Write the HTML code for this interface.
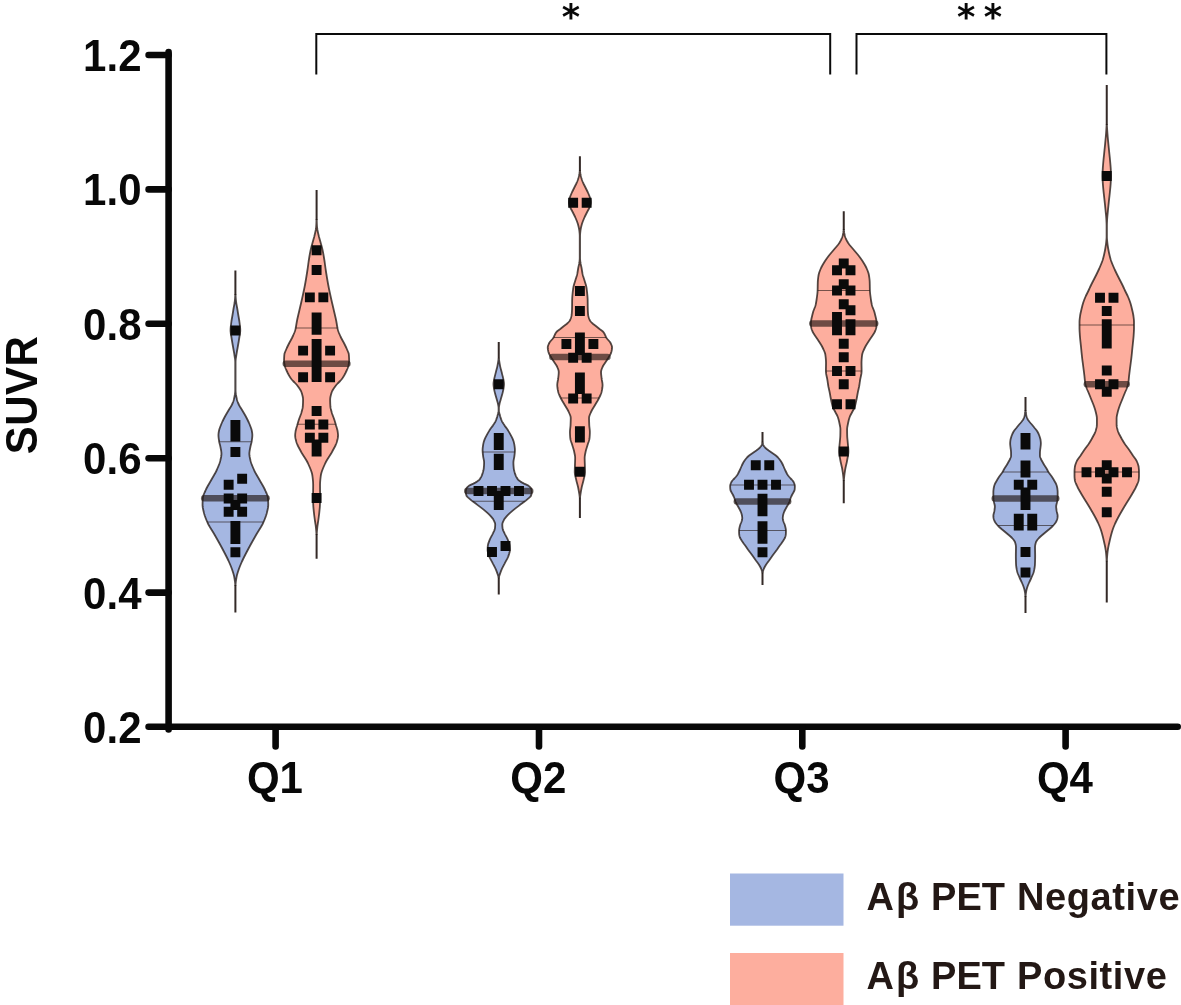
<!DOCTYPE html>
<html lang="en">
<head>
<meta charset="utf-8">
<title>SUVR by quartile</title>
<style>
html,body{margin:0;padding:0;background:#fff;}
body{width:1181px;height:1005px;overflow:hidden;font-family:"Liberation Sans",Arial,Helvetica,sans-serif;}
svg{display:block;will-change:transform;}
</style>
</head>
<body>
<svg width="1181" height="1005" viewBox="0 0 1181 1005">
<rect width="1181" height="1005" fill="#fff"/>
<g><path d="M235.4 270.4V295M235.4 585V612.5" stroke="#231815" stroke-opacity=".92" stroke-width="2" fill="none"/>
<path d="M235.55 295 L235.59 296 L235.65 297 L235.72 298 L235.8 299 L235.9 300 L236.01 301 L236.12 302 L236.24 303 L236.4 304 L236.58 305 L236.78 306 L236.97 307 L237.15 308 L237.32 309 L237.48 310 L237.64 311 L237.8 312 L237.97 313 L238.13 314 L238.29 315 L238.46 316 L238.64 317 L238.82 318 L239 319 L239.16 320 L239.32 321 L239.45 322 L239.58 323 L239.71 324 L239.84 325 L239.96 326 L240.07 327 L240.16 328 L240.22 329 L240.25 330 L240.24 331 L240.17 332 L240.06 333 L239.91 334 L239.75 335 L239.58 336 L239.41 337 L239.25 338 L239.1 339 L238.94 340 L238.78 341 L238.61 342 L238.43 343 L238.26 344 L238.09 345 L237.92 346 L237.74 347 L237.56 348 L237.38 349 L237.2 350 L237.02 351 L236.84 352 L236.68 353 L236.52 354 L236.38 355 L236.22 356 L236.06 357 L235.9 358 L235.77 359 L235.65 360 L235.58 361 L235.55 362 L235.55 363 L235.55 364 L235.55 365 L235.55 366 L235.55 367 L235.55 368 L235.55 369 L235.55 370 L235.55 371 L235.55 372 L235.55 373 L235.55 374 L235.55 375 L235.55 376 L235.55 377 L235.55 378 L235.55 379 L235.55 380 L235.55 381 L235.55 382 L235.55 383 L235.55 384 L235.55 385 L235.55 386 L235.55 387 L235.55 388 L235.55 389 L235.55 390 L235.57 391 L235.63 392 L235.73 393 L235.86 394 L236.01 395 L236.19 396 L236.39 397 L236.6 398 L236.82 399 L237.05 400 L237.33 401 L237.69 402 L238.11 403 L238.57 404 L239.05 405 L239.58 406 L240.17 407 L240.8 408 L241.44 409 L242.05 410 L242.64 411 L243.23 412 L243.83 413 L244.41 414 L244.99 415 L245.55 416 L246.09 417 L246.61 418 L247.12 419 L247.61 420 L248.1 421 L248.57 422 L249.02 423 L249.45 424 L249.85 425 L250.24 426 L250.63 427 L251.01 428 L251.35 429 L251.63 430 L251.85 431 L252.03 432 L252.19 433 L252.3 434 L252.35 435 L252.32 436 L252.26 437 L252.16 438 L252.03 439 L251.89 440 L251.75 441 L251.57 442 L251.34 443 L251.08 444 L250.81 445 L250.56 446 L250.35 447 L250.16 448 L249.96 449 L249.76 450 L249.59 451 L249.46 452 L249.37 453 L249.35 454 L249.41 455 L249.53 456 L249.7 457 L249.91 458 L250.13 459 L250.35 460 L250.59 461 L250.87 462 L251.19 463 L251.54 464 L251.92 465 L252.32 466 L252.74 467 L253.17 468 L253.61 469 L254.05 470 L254.51 471 L255.01 472 L255.54 473 L256.1 474 L256.67 475 L257.25 476 L257.83 477 L258.42 478 L258.99 479 L259.55 480 L260.11 481 L260.69 482 L261.27 483 L261.86 484 L262.45 485 L263.02 486 L263.57 487 L264.1 488 L264.59 489 L265.05 490 L265.5 491 L265.96 492 L266.42 493 L266.86 494 L267.25 495 L267.57 496 L267.82 497 L267.95 498 L268.02 499 L268.09 500 L268.14 501 L268.19 502 L268.22 503 L268.24 504 L268.25 505 L268.21 506 L268.1 507 L267.94 508 L267.74 509 L267.52 510 L267.28 511 L267.05 512 L266.81 513 L266.54 514 L266.23 515 L265.91 516 L265.56 517 L265.19 518 L264.8 519 L264.39 520 L263.98 521 L263.55 522 L263.1 523 L262.6 524 L262.07 525 L261.51 526 L260.93 527 L260.32 528 L259.71 529 L259.08 530 L258.46 531 L257.84 532 L257.22 533 L256.63 534 L256.05 535 L255.48 536 L254.92 537 L254.35 538 L253.79 539 L253.22 540 L252.66 541 L252.1 542 L251.54 543 L250.99 544 L250.44 545 L249.89 546 L249.35 547 L248.81 548 L248.28 549 L247.75 550 L247.23 551 L246.7 552 L246.18 553 L245.65 554 L245.14 555 L244.63 556 L244.12 557 L243.62 558 L243.14 559 L242.66 560 L242.2 561 L241.75 562 L241.31 563 L240.88 564 L240.45 565 L240.04 566 L239.64 567 L239.26 568 L238.89 569 L238.55 570 L238.22 571 L237.89 572 L237.57 573 L237.27 574 L236.99 575 L236.75 576 L236.55 577 L236.38 578 L236.21 579 L236.06 580 L235.91 581 L235.79 582 L235.68 583 L235.6 584 L235.55 585 L235.25 585 L235.2 584 L235.12 583 L235.01 582 L234.89 581 L234.74 580 L234.59 579 L234.42 578 L234.25 577 L234.05 576 L233.81 575 L233.53 574 L233.23 573 L232.91 572 L232.58 571 L232.25 570 L231.91 569 L231.54 568 L231.16 567 L230.76 566 L230.35 565 L229.92 564 L229.49 563 L229.05 562 L228.6 561 L228.14 560 L227.66 559 L227.18 558 L226.68 557 L226.17 556 L225.66 555 L225.15 554 L224.62 553 L224.1 552 L223.57 551 L223.05 550 L222.52 549 L221.99 548 L221.45 547 L220.91 546 L220.36 545 L219.81 544 L219.26 543 L218.7 542 L218.14 541 L217.58 540 L217.01 539 L216.45 538 L215.88 537 L215.32 536 L214.75 535 L214.17 534 L213.58 533 L212.96 532 L212.34 531 L211.72 530 L211.09 529 L210.48 528 L209.87 527 L209.29 526 L208.73 525 L208.2 524 L207.7 523 L207.25 522 L206.82 521 L206.41 520 L206 519 L205.61 518 L205.24 517 L204.89 516 L204.57 515 L204.26 514 L203.99 513 L203.75 512 L203.52 511 L203.28 510 L203.06 509 L202.86 508 L202.7 507 L202.59 506 L202.55 505 L202.56 504 L202.58 503 L202.61 502 L202.66 501 L202.71 500 L202.78 499 L202.85 498 L202.98 497 L203.23 496 L203.55 495 L203.94 494 L204.38 493 L204.84 492 L205.3 491 L205.75 490 L206.21 489 L206.7 488 L207.23 487 L207.78 486 L208.35 485 L208.94 484 L209.53 483 L210.11 482 L210.69 481 L211.25 480 L211.81 479 L212.38 478 L212.97 477 L213.55 476 L214.13 475 L214.7 474 L215.26 473 L215.79 472 L216.29 471 L216.75 470 L217.19 469 L217.63 468 L218.06 467 L218.48 466 L218.88 465 L219.26 464 L219.61 463 L219.93 462 L220.21 461 L220.45 460 L220.67 459 L220.89 458 L221.1 457 L221.27 456 L221.39 455 L221.45 454 L221.43 453 L221.34 452 L221.21 451 L221.04 450 L220.84 449 L220.64 448 L220.45 447 L220.24 446 L219.99 445 L219.72 444 L219.46 443 L219.23 442 L219.05 441 L218.91 440 L218.77 439 L218.65 438 L218.54 437 L218.48 436 L218.45 435 L218.5 434 L218.61 433 L218.77 432 L218.95 431 L219.17 430 L219.45 429 L219.79 428 L220.17 427 L220.56 426 L220.95 425 L221.35 424 L221.78 423 L222.23 422 L222.7 421 L223.19 420 L223.68 419 L224.19 418 L224.71 417 L225.25 416 L225.81 415 L226.39 414 L226.97 413 L227.57 412 L228.16 411 L228.75 410 L229.36 409 L230 408 L230.63 407 L231.22 406 L231.75 405 L232.23 404 L232.69 403 L233.11 402 L233.47 401 L233.75 400 L233.98 399 L234.2 398 L234.41 397 L234.61 396 L234.79 395 L234.94 394 L235.07 393 L235.17 392 L235.23 391 L235.25 390 L235.25 389 L235.25 388 L235.25 387 L235.25 386 L235.25 385 L235.25 384 L235.25 383 L235.25 382 L235.25 381 L235.25 380 L235.25 379 L235.25 378 L235.25 377 L235.25 376 L235.25 375 L235.25 374 L235.25 373 L235.25 372 L235.25 371 L235.25 370 L235.25 369 L235.25 368 L235.25 367 L235.25 366 L235.25 365 L235.25 364 L235.25 363 L235.25 362 L235.22 361 L235.15 360 L235.03 359 L234.9 358 L234.74 357 L234.58 356 L234.42 355 L234.28 354 L234.12 353 L233.96 352 L233.78 351 L233.6 350 L233.42 349 L233.24 348 L233.06 347 L232.88 346 L232.71 345 L232.54 344 L232.37 343 L232.19 342 L232.02 341 L231.86 340 L231.7 339 L231.55 338 L231.39 337 L231.22 336 L231.05 335 L230.89 334 L230.74 333 L230.63 332 L230.56 331 L230.55 330 L230.58 329 L230.64 328 L230.73 327 L230.84 326 L230.96 325 L231.09 324 L231.22 323 L231.35 322 L231.48 321 L231.64 320 L231.8 319 L231.98 318 L232.16 317 L232.34 316 L232.51 315 L232.67 314 L232.83 313 L233 312 L233.16 311 L233.32 310 L233.48 309 L233.65 308 L233.83 307 L234.02 306 L234.22 305 L234.4 304 L234.56 303 L234.68 302 L234.79 301 L234.9 300 L235 299 L235.08 298 L235.15 297 L235.21 296 L235.25 295Z" fill="#a5b7e2" stroke="#231815" stroke-opacity=".78" stroke-width="1.8" stroke-linejoin="round"/>
<path d="M219.18 441.75H251.62" stroke="#231815" stroke-opacity=".62" stroke-width="1.15"/>
<path d="M207.25 522H263.55" stroke="#231815" stroke-opacity=".62" stroke-width="1.15"/>
<path d="M204.23 498.25H266.57" stroke="#231815" stroke-opacity=".66" stroke-width="6.5" stroke-linecap="round"/>
<path d="M230.45 325.55h9.9v9.9h-9.9zM230.45 447.05h9.9v9.9h-9.9zM237.2 473.8h9.9v9.9h-9.9zM223.7 479.8h9.9v9.9h-9.9zM223.7 493.55h9.9v9.9h-9.9zM237.2 493.55h9.9v9.9h-9.9zM230.45 500.05h9.9v9.9h-9.9zM223.7 506.8h9.9v9.9h-9.9zM237.2 506.8h9.9v9.9h-9.9zM230.45 547.3h9.9v9.9h-9.9zM230.45 420h9.9v21.5h-9.9zM230.45 521h9.9v23h-9.9z" fill="#0a0a0a"/></g>
<g><path d="M316.6 190V220M316.6 534V558.75" stroke="#231815" stroke-opacity=".92" stroke-width="2" fill="none"/>
<path d="M316.75 220 L316.76 221 L316.78 222 L316.82 223 L316.86 224 L316.92 225 L316.98 226 L317.05 227 L317.14 228 L317.28 229 L317.45 230 L317.65 231 L317.86 232 L318.09 233 L318.32 234 L318.55 235 L318.79 236 L319.04 237 L319.32 238 L319.6 239 L319.89 240 L320.18 241 L320.45 242 L320.72 243 L321 244 L321.28 245 L321.55 246 L321.82 247 L322.08 248 L322.32 249 L322.55 250 L322.76 251 L322.96 252 L323.16 253 L323.34 254 L323.52 255 L323.7 256 L323.87 257 L324.03 258 L324.19 259 L324.35 260 L324.5 261 L324.65 262 L324.79 263 L324.92 264 L325.06 265 L325.19 266 L325.32 267 L325.46 268 L325.6 269 L325.75 270 L325.9 271 L326.06 272 L326.21 273 L326.37 274 L326.53 275 L326.69 276 L326.85 277 L327.02 278 L327.19 279 L327.36 280 L327.53 281 L327.71 282 L327.88 283 L328.07 284 L328.25 285 L328.44 286 L328.63 287 L328.83 288 L329.03 289 L329.24 290 L329.45 291 L329.66 292 L329.88 293 L330.09 294 L330.31 295 L330.53 296 L330.75 297 L330.97 298 L331.19 299 L331.42 300 L331.65 301 L331.88 302 L332.11 303 L332.35 304 L332.58 305 L332.82 306 L333.05 307 L333.29 308 L333.52 309 L333.75 310 L333.98 311 L334.22 312 L334.45 313 L334.69 314 L334.93 315 L335.16 316 L335.39 317 L335.62 318 L335.84 319 L336.05 320 L336.25 321 L336.43 322 L336.6 323 L336.77 324 L336.93 325 L337.1 326 L337.28 327 L337.48 328 L337.7 329 L337.95 330 L338.24 331 L338.59 332 L338.98 333 L339.4 334 L339.84 335 L340.29 336 L340.75 337 L341.23 338 L341.75 339 L342.29 340 L342.84 341 L343.4 342 L343.94 343 L344.45 344 L344.95 345 L345.44 346 L345.92 347 L346.39 348 L346.83 349 L347.25 350 L347.68 351 L348.12 352 L348.51 353 L348.78 354 L348.89 355 L348.97 356 L349.03 357 L349.08 358 L349.12 359 L349.14 360 L349.15 361 L349.1 362 L348.98 363 L348.79 364 L348.58 365 L348.35 366 L348.08 367 L347.74 368 L347.33 369 L346.89 370 L346.42 371 L345.95 372 L345.47 373 L344.95 374 L344.41 375 L343.83 376 L343.22 377 L342.57 378 L341.87 379 L341.05 380 L340.13 381 L339.14 382 L338.14 383 L337.18 384 L336.29 385 L335.53 386 L334.81 387 L334.09 388 L333.41 389 L332.79 390 L332.24 391 L331.79 392 L331.46 393 L331.16 394 L330.88 395 L330.62 396 L330.41 397 L330.25 398 L330.17 399 L330.15 400 L330.16 401 L330.18 402 L330.21 403 L330.25 404 L330.3 405 L330.35 406 L330.44 407 L330.6 408 L330.82 409 L331.07 410 L331.34 411 L331.61 412 L331.89 413 L332.21 414 L332.57 415 L332.95 416 L333.34 417 L333.72 418 L334.08 419 L334.41 420 L334.73 421 L335.03 422 L335.33 423 L335.62 424 L335.91 425 L336.19 426 L336.5 427 L336.81 428 L337.1 429 L337.36 430 L337.57 431 L337.72 432 L337.86 433 L337.97 434 L338.04 435 L338.04 436 L337.95 437 L337.79 438 L337.58 439 L337.34 440 L337.08 441 L336.81 442 L336.49 443 L336.1 444 L335.67 445 L335.19 446 L334.68 447 L334.14 448 L333.6 449 L333.05 450 L332.51 451 L331.98 452 L331.42 453 L330.82 454 L330.19 455 L329.55 456 L328.9 457 L328.26 458 L327.62 459 L327.01 460 L326.42 461 L325.88 462 L325.38 463 L324.93 464 L324.48 465 L324.03 466 L323.59 467 L323.16 468 L322.75 469 L322.36 470 L321.99 471 L321.66 472 L321.36 473 L321.11 474 L320.9 475 L320.75 476 L320.63 477 L320.51 478 L320.4 479 L320.31 480 L320.22 481 L320.15 482 L320.1 483 L320.06 484 L320.05 485 L320.05 486 L320.06 487 L320.06 488 L320.07 489 L320.08 490 L320.09 491 L320.11 492 L320.12 493 L320.13 494 L320.14 495 L320.14 496 L320.15 497 L320.15 498 L320.14 499 L320.13 500 L320.1 501 L320.07 502 L320.03 503 L319.99 504 L319.95 505 L319.9 506 L319.83 507 L319.75 508 L319.65 509 L319.55 510 L319.45 511 L319.35 512 L319.24 513 L319.13 514 L319.01 515 L318.88 516 L318.75 517 L318.62 518 L318.48 519 L318.35 520 L318.21 521 L318.06 522 L317.9 523 L317.75 524 L317.6 525 L317.47 526 L317.35 527 L317.25 528 L317.15 529 L317.05 530 L316.96 531 L316.88 532 L316.81 533 L316.75 534 L316.45 534 L316.39 533 L316.32 532 L316.24 531 L316.15 530 L316.05 529 L315.95 528 L315.85 527 L315.73 526 L315.6 525 L315.45 524 L315.3 523 L315.14 522 L314.99 521 L314.85 520 L314.72 519 L314.58 518 L314.45 517 L314.32 516 L314.19 515 L314.07 514 L313.96 513 L313.85 512 L313.75 511 L313.65 510 L313.55 509 L313.45 508 L313.37 507 L313.3 506 L313.25 505 L313.21 504 L313.17 503 L313.13 502 L313.1 501 L313.07 500 L313.06 499 L313.05 498 L313.05 497 L313.06 496 L313.06 495 L313.07 494 L313.08 493 L313.09 492 L313.11 491 L313.12 490 L313.13 489 L313.14 488 L313.14 487 L313.15 486 L313.15 485 L313.14 484 L313.1 483 L313.05 482 L312.98 481 L312.89 480 L312.8 479 L312.69 478 L312.57 477 L312.45 476 L312.3 475 L312.09 474 L311.84 473 L311.54 472 L311.21 471 L310.84 470 L310.45 469 L310.04 468 L309.61 467 L309.17 466 L308.72 465 L308.27 464 L307.82 463 L307.32 462 L306.78 461 L306.19 460 L305.58 459 L304.94 458 L304.3 457 L303.65 456 L303.01 455 L302.38 454 L301.78 453 L301.22 452 L300.69 451 L300.15 450 L299.6 449 L299.06 448 L298.52 447 L298.01 446 L297.53 445 L297.1 444 L296.71 443 L296.39 442 L296.12 441 L295.86 440 L295.62 439 L295.41 438 L295.25 437 L295.16 436 L295.16 435 L295.23 434 L295.34 433 L295.48 432 L295.63 431 L295.84 430 L296.1 429 L296.39 428 L296.7 427 L297.01 426 L297.29 425 L297.58 424 L297.87 423 L298.17 422 L298.47 421 L298.79 420 L299.12 419 L299.48 418 L299.86 417 L300.25 416 L300.63 415 L300.99 414 L301.31 413 L301.59 412 L301.86 411 L302.13 410 L302.38 409 L302.6 408 L302.76 407 L302.85 406 L302.9 405 L302.95 404 L302.99 403 L303.02 402 L303.04 401 L303.05 400 L303.03 399 L302.95 398 L302.79 397 L302.58 396 L302.32 395 L302.04 394 L301.74 393 L301.41 392 L300.96 391 L300.41 390 L299.79 389 L299.11 388 L298.39 387 L297.67 386 L296.91 385 L296.02 384 L295.06 383 L294.06 382 L293.07 381 L292.15 380 L291.33 379 L290.63 378 L289.98 377 L289.37 376 L288.79 375 L288.25 374 L287.73 373 L287.25 372 L286.78 371 L286.31 370 L285.87 369 L285.46 368 L285.12 367 L284.85 366 L284.62 365 L284.41 364 L284.22 363 L284.1 362 L284.05 361 L284.06 360 L284.08 359 L284.12 358 L284.17 357 L284.23 356 L284.31 355 L284.42 354 L284.69 353 L285.08 352 L285.52 351 L285.95 350 L286.37 349 L286.81 348 L287.28 347 L287.76 346 L288.25 345 L288.75 344 L289.26 343 L289.8 342 L290.36 341 L290.91 340 L291.45 339 L291.97 338 L292.45 337 L292.91 336 L293.36 335 L293.8 334 L294.22 333 L294.61 332 L294.96 331 L295.25 330 L295.5 329 L295.72 328 L295.92 327 L296.1 326 L296.27 325 L296.43 324 L296.6 323 L296.77 322 L296.95 321 L297.15 320 L297.36 319 L297.58 318 L297.81 317 L298.04 316 L298.27 315 L298.51 314 L298.75 313 L298.98 312 L299.22 311 L299.45 310 L299.68 309 L299.91 308 L300.15 307 L300.38 306 L300.62 305 L300.85 304 L301.09 303 L301.32 302 L301.55 301 L301.78 300 L302.01 299 L302.23 298 L302.45 297 L302.67 296 L302.89 295 L303.11 294 L303.32 293 L303.54 292 L303.75 291 L303.96 290 L304.17 289 L304.37 288 L304.57 287 L304.76 286 L304.95 285 L305.13 284 L305.32 283 L305.49 282 L305.67 281 L305.84 280 L306.01 279 L306.18 278 L306.35 277 L306.51 276 L306.67 275 L306.83 274 L306.99 273 L307.14 272 L307.3 271 L307.45 270 L307.6 269 L307.74 268 L307.88 267 L308.01 266 L308.14 265 L308.28 264 L308.41 263 L308.55 262 L308.7 261 L308.85 260 L309.01 259 L309.17 258 L309.33 257 L309.5 256 L309.68 255 L309.86 254 L310.04 253 L310.24 252 L310.44 251 L310.65 250 L310.88 249 L311.12 248 L311.38 247 L311.65 246 L311.92 245 L312.2 244 L312.48 243 L312.75 242 L313.02 241 L313.31 240 L313.6 239 L313.88 238 L314.16 237 L314.41 236 L314.65 235 L314.88 234 L315.11 233 L315.34 232 L315.55 231 L315.75 230 L315.92 229 L316.06 228 L316.15 227 L316.22 226 L316.28 225 L316.34 224 L316.38 223 L316.42 222 L316.44 221 L316.45 220Z" fill="#fdae9e" stroke="#231815" stroke-opacity=".78" stroke-width="1.8" stroke-linejoin="round"/>
<path d="M295.72 328H337.48" stroke="#231815" stroke-opacity=".62" stroke-width="1.15"/>
<path d="M297.52 424.2H335.68" stroke="#231815" stroke-opacity=".62" stroke-width="1.15"/>
<path d="M285.77 363.8H347.43" stroke="#231815" stroke-opacity=".66" stroke-width="6.5" stroke-linecap="round"/>
<path d="M311.65 245.35h9.9v9.9h-9.9zM311.65 265.05h9.9v9.9h-9.9zM304.9 292.45h9.9v9.9h-9.9zM318.4 292.45h9.9v9.9h-9.9zM298.15 345.65h9.9v9.9h-9.9zM325.15 345.65h9.9v9.9h-9.9zM298.15 372.35h9.9v9.9h-9.9zM325.15 372.35h9.9v9.9h-9.9zM311.65 406.05h9.9v9.9h-9.9zM304.9 419.55h9.9v9.9h-9.9zM318.4 419.55h9.9v9.9h-9.9zM304.9 432.8h9.9v9.9h-9.9zM318.4 432.8h9.9v9.9h-9.9zM311.65 493.05h9.9v9.9h-9.9zM311.65 312.4h9.9v22.4h-9.9zM311.65 339h9.9v43.1h-9.9zM311.65 439.6h9.9v17h-9.9z" fill="#0a0a0a"/></g>
<g><path d="M498.75 342V358.6M498.75 577.5V594.5" stroke="#231815" stroke-opacity=".92" stroke-width="2" fill="none"/>
<path d="M498.9 358.6 L499.03 359.6 L499.17 360.6 L499.32 361.6 L499.48 362.6 L499.65 363.6 L499.83 364.6 L500.02 365.6 L500.22 366.6 L500.45 367.6 L500.69 368.6 L500.95 369.6 L501.22 370.6 L501.48 371.6 L501.75 372.6 L502 373.6 L502.25 374.6 L502.5 375.6 L502.76 376.6 L503.01 377.6 L503.24 378.6 L503.43 379.6 L503.6 380.6 L503.77 381.6 L503.91 382.6 L503.99 383.6 L503.99 384.6 L503.91 385.6 L503.79 386.6 L503.65 387.6 L503.51 388.6 L503.33 389.6 L503.12 390.6 L502.89 391.6 L502.66 392.6 L502.41 393.6 L502.14 394.6 L501.86 395.6 L501.57 396.6 L501.28 397.6 L500.99 398.6 L500.71 399.6 L500.43 400.6 L500.13 401.6 L499.84 402.6 L499.58 403.6 L499.38 404.6 L499.18 405.6 L499.01 406.6 L498.91 407.6 L498.9 408.6 L498.9 409.6 L498.9 410.6 L498.94 411.6 L499.14 412.6 L499.4 413.6 L499.65 414.6 L499.93 415.6 L500.23 416.6 L500.56 417.6 L500.91 418.6 L501.27 419.6 L501.67 420.6 L502.11 421.6 L502.62 422.6 L503.25 423.6 L503.93 424.6 L504.62 425.6 L505.36 426.6 L506.1 427.6 L506.81 428.6 L507.49 429.6 L508.15 430.6 L508.77 431.6 L509.37 432.6 L509.94 433.6 L510.49 434.6 L511.02 435.6 L511.55 436.6 L512.07 437.6 L512.54 438.6 L512.96 439.6 L513.3 440.6 L513.61 441.6 L513.9 442.6 L514.14 443.6 L514.34 444.6 L514.49 445.6 L514.63 446.6 L514.75 447.6 L514.85 448.6 L514.9 449.6 L514.89 450.6 L514.85 451.6 L514.77 452.6 L514.67 453.6 L514.56 454.6 L514.44 455.6 L514.32 456.6 L514.15 457.6 L513.95 458.6 L513.74 459.6 L513.56 460.6 L513.44 461.6 L513.4 462.6 L513.42 463.6 L513.45 464.6 L513.51 465.6 L513.58 466.6 L513.67 467.6 L513.76 468.6 L513.92 469.6 L514.13 470.6 L514.39 471.6 L514.68 472.6 L515.01 473.6 L515.36 474.6 L515.73 475.6 L516.17 476.6 L516.69 477.6 L517.32 478.6 L518.06 479.6 L519.04 480.6 L520.49 481.6 L522.21 482.6 L524.07 483.6 L526.34 484.6 L528.34 485.6 L529.57 486.6 L530.53 487.6 L531.17 488.6 L531.43 489.6 L531.6 490.6 L531.69 491.6 L531.68 492.6 L531.57 493.6 L531.39 494.6 L531.07 495.6 L530.33 496.6 L529.3 497.6 L528.13 498.6 L526.99 499.6 L525.82 500.6 L524.53 501.6 L523.17 502.6 L521.79 503.6 L520.43 504.6 L519.11 505.6 L517.78 506.6 L516.44 507.6 L515.14 508.6 L513.88 509.6 L512.69 510.6 L511.51 511.6 L510.37 512.6 L509.26 513.6 L508.22 514.6 L507.26 515.6 L506.38 516.6 L505.53 517.6 L504.75 518.6 L504.11 519.6 L503.6 520.6 L503.11 521.6 L502.69 522.6 L502.4 523.6 L502.3 524.6 L502.33 525.6 L502.4 526.6 L502.49 527.6 L502.61 528.6 L502.86 529.6 L503.25 530.6 L503.73 531.6 L504.22 532.6 L504.68 533.6 L505.18 534.6 L505.72 535.6 L506.26 536.6 L506.8 537.6 L507.3 538.6 L507.74 539.6 L508.13 540.6 L508.51 541.6 L508.88 542.6 L509.21 543.6 L509.48 544.6 L509.66 545.6 L509.75 546.6 L509.82 547.6 L509.87 548.6 L509.9 549.6 L509.88 550.6 L509.74 551.6 L509.51 552.6 L509.21 553.6 L508.88 554.6 L508.53 555.6 L508.19 556.6 L507.76 557.6 L507.27 558.6 L506.74 559.6 L506.19 560.6 L505.64 561.6 L505.1 562.6 L504.6 563.6 L504.07 564.6 L503.54 565.6 L503.01 566.6 L502.5 567.6 L502.01 568.6 L501.56 569.6 L501.16 570.6 L500.78 571.6 L500.41 572.6 L500.06 573.6 L499.73 574.6 L499.42 575.6 L499.13 576.6 L498.9 577.5 L498.6 577.5 L498.37 576.6 L498.08 575.6 L497.77 574.6 L497.44 573.6 L497.09 572.6 L496.72 571.6 L496.34 570.6 L495.94 569.6 L495.49 568.6 L495 567.6 L494.49 566.6 L493.96 565.6 L493.43 564.6 L492.9 563.6 L492.4 562.6 L491.86 561.6 L491.31 560.6 L490.76 559.6 L490.23 558.6 L489.74 557.6 L489.31 556.6 L488.97 555.6 L488.62 554.6 L488.29 553.6 L487.99 552.6 L487.76 551.6 L487.62 550.6 L487.6 549.6 L487.63 548.6 L487.68 547.6 L487.75 546.6 L487.84 545.6 L488.02 544.6 L488.29 543.6 L488.62 542.6 L488.99 541.6 L489.37 540.6 L489.76 539.6 L490.2 538.6 L490.7 537.6 L491.24 536.6 L491.78 535.6 L492.32 534.6 L492.82 533.6 L493.28 532.6 L493.77 531.6 L494.25 530.6 L494.64 529.6 L494.89 528.6 L495.01 527.6 L495.1 526.6 L495.17 525.6 L495.2 524.6 L495.1 523.6 L494.81 522.6 L494.39 521.6 L493.9 520.6 L493.39 519.6 L492.75 518.6 L491.97 517.6 L491.12 516.6 L490.24 515.6 L489.28 514.6 L488.24 513.6 L487.13 512.6 L485.99 511.6 L484.81 510.6 L483.62 509.6 L482.36 508.6 L481.06 507.6 L479.72 506.6 L478.39 505.6 L477.07 504.6 L475.71 503.6 L474.33 502.6 L472.97 501.6 L471.68 500.6 L470.51 499.6 L469.37 498.6 L468.2 497.6 L467.17 496.6 L466.43 495.6 L466.11 494.6 L465.93 493.6 L465.82 492.6 L465.81 491.6 L465.9 490.6 L466.07 489.6 L466.33 488.6 L466.97 487.6 L467.93 486.6 L469.16 485.6 L471.16 484.6 L473.43 483.6 L475.29 482.6 L477.01 481.6 L478.46 480.6 L479.44 479.6 L480.18 478.6 L480.81 477.6 L481.33 476.6 L481.77 475.6 L482.14 474.6 L482.49 473.6 L482.82 472.6 L483.11 471.6 L483.37 470.6 L483.58 469.6 L483.74 468.6 L483.83 467.6 L483.92 466.6 L483.99 465.6 L484.05 464.6 L484.08 463.6 L484.1 462.6 L484.06 461.6 L483.94 460.6 L483.76 459.6 L483.55 458.6 L483.35 457.6 L483.18 456.6 L483.06 455.6 L482.94 454.6 L482.83 453.6 L482.73 452.6 L482.65 451.6 L482.61 450.6 L482.6 449.6 L482.65 448.6 L482.75 447.6 L482.87 446.6 L483.01 445.6 L483.16 444.6 L483.36 443.6 L483.6 442.6 L483.89 441.6 L484.2 440.6 L484.54 439.6 L484.96 438.6 L485.43 437.6 L485.95 436.6 L486.48 435.6 L487.01 434.6 L487.56 433.6 L488.13 432.6 L488.73 431.6 L489.35 430.6 L490.01 429.6 L490.69 428.6 L491.4 427.6 L492.14 426.6 L492.88 425.6 L493.57 424.6 L494.25 423.6 L494.88 422.6 L495.39 421.6 L495.83 420.6 L496.23 419.6 L496.59 418.6 L496.94 417.6 L497.27 416.6 L497.57 415.6 L497.85 414.6 L498.1 413.6 L498.36 412.6 L498.56 411.6 L498.6 410.6 L498.6 409.6 L498.6 408.6 L498.59 407.6 L498.49 406.6 L498.32 405.6 L498.12 404.6 L497.92 403.6 L497.66 402.6 L497.37 401.6 L497.07 400.6 L496.79 399.6 L496.51 398.6 L496.22 397.6 L495.93 396.6 L495.64 395.6 L495.36 394.6 L495.09 393.6 L494.84 392.6 L494.61 391.6 L494.38 390.6 L494.17 389.6 L493.99 388.6 L493.85 387.6 L493.71 386.6 L493.59 385.6 L493.51 384.6 L493.51 383.6 L493.59 382.6 L493.73 381.6 L493.9 380.6 L494.07 379.6 L494.26 378.6 L494.49 377.6 L494.74 376.6 L495 375.6 L495.25 374.6 L495.5 373.6 L495.75 372.6 L496.02 371.6 L496.28 370.6 L496.55 369.6 L496.81 368.6 L497.05 367.6 L497.28 366.6 L497.48 365.6 L497.67 364.6 L497.85 363.6 L498.02 362.6 L498.18 361.6 L498.33 360.6 L498.47 359.6 L498.6 358.6Z" fill="#a5b7e2" stroke="#231815" stroke-opacity=".78" stroke-width="1.8" stroke-linejoin="round"/>
<path d="M482.68 452H514.82" stroke="#231815" stroke-opacity=".62" stroke-width="1.15"/>
<path d="M472.51 501.25H524.99" stroke="#231815" stroke-opacity=".62" stroke-width="1.15"/>
<path d="M467.25 491H530.25" stroke="#231815" stroke-opacity=".66" stroke-width="6.5" stroke-linecap="round"/>
<path d="M493.8 379.3h9.9v9.9h-9.9zM473.55 486.05h9.9v9.9h-9.9zM487.05 486.05h9.9v9.9h-9.9zM500.55 486.05h9.9v9.9h-9.9zM514.05 486.05h9.9v9.9h-9.9zM500.55 541.05h9.9v9.9h-9.9zM487.05 547.05h9.9v9.9h-9.9zM493.8 433h9.9v17h-9.9zM493.8 453.75h9.9v16.25h-9.9zM493.8 491h9.9v19h-9.9z" fill="#0a0a0a"/></g>
<g><path d="M579.9 156.25V171M579.9 497.5V518" stroke="#231815" stroke-opacity=".92" stroke-width="2" fill="none"/>
<path d="M580.05 171 L580.16 172 L580.3 173 L580.46 174 L580.65 175 L580.85 176 L581.08 177 L581.35 178 L581.66 179 L581.99 180 L582.35 181 L582.75 182 L583.2 183 L583.68 184 L584.19 185 L584.7 186 L585.2 187 L585.69 188 L586.19 189 L586.69 190 L587.19 191 L587.68 192 L588.13 193 L588.56 194 L588.99 195 L589.39 196 L589.76 197 L590.05 198 L590.31 199 L590.56 200 L590.75 201 L590.85 202 L590.8 203 L590.61 204 L590.33 205 L589.99 206 L589.65 207 L589.26 208 L588.77 209 L588.23 210 L587.68 211 L587.15 212 L586.65 213 L586.15 214 L585.64 215 L585.15 216 L584.67 217 L584.22 218 L583.8 219 L583.38 220 L582.98 221 L582.59 222 L582.24 223 L581.92 224 L581.64 225 L581.38 226 L581.14 227 L580.91 228 L580.72 229 L580.55 230 L580.43 231 L580.32 232 L580.21 233 L580.13 234 L580.07 235 L580.05 236 L580.05 237 L580.05 238 L580.05 239 L580.05 240 L580.05 241 L580.05 242 L580.05 243 L580.05 244 L580.05 245 L580.05 246 L580.05 247 L580.05 248 L580.05 249 L580.05 250 L580.05 251 L580.05 252 L580.05 253 L580.05 254 L580.05 255 L580.05 256 L580.05 257 L580.05 258 L580.08 259 L580.15 260 L580.24 261 L580.35 262 L580.49 263 L580.67 264 L580.89 265 L581.12 266 L581.35 267 L581.55 268 L581.72 269 L581.89 270 L582.04 271 L582.2 272 L582.37 273 L582.56 274 L582.79 275 L583.07 276 L583.38 277 L583.71 278 L584.04 279 L584.35 280 L584.66 281 L584.97 282 L585.29 283 L585.6 284 L585.89 285 L586.14 286 L586.35 287 L586.52 288 L586.68 289 L586.81 290 L586.94 291 L587.05 292 L587.15 293 L587.24 294 L587.34 295 L587.42 296 L587.5 297 L587.57 298 L587.62 299 L587.65 300 L587.67 301 L587.68 302 L587.69 303 L587.7 304 L587.71 305 L587.72 306 L587.73 307 L587.75 308 L587.77 309 L587.81 310 L587.85 311 L587.91 312 L587.97 313 L588.05 314 L588.17 315 L588.35 316 L588.6 317 L588.9 318 L589.25 319 L589.65 320 L590.24 321 L591.09 322 L592.05 323 L593.19 324 L594.53 325 L595.85 326 L597.09 327 L598.31 328 L599.55 329 L600.92 330 L602.29 331 L603.35 332 L604.04 333 L604.59 334 L605.06 335 L605.5 336 L605.98 337 L606.55 338 L607.3 339 L608.2 340 L609.11 341 L609.94 342 L610.55 343 L611.02 344 L611.46 345 L611.82 346 L612.02 347 L612.04 348 L611.95 349 L611.79 350 L611.58 351 L611.35 352 L611.03 353 L610.57 354 L610.02 355 L609.43 356 L608.85 357 L608.26 358 L607.62 359 L606.96 360 L606.3 361 L605.65 362 L604.99 363 L604.3 364 L603.63 365 L603.03 366 L602.55 367 L602.14 368 L601.73 369 L601.38 370 L601.14 371 L601.05 372 L601.07 373 L601.13 374 L601.22 375 L601.33 376 L601.44 377 L601.55 378 L601.68 379 L601.85 380 L602.05 381 L602.23 382 L602.39 383 L602.51 384 L602.55 385 L602.52 386 L602.44 387 L602.31 388 L602.15 389 L601.97 390 L601.76 391 L601.55 392 L601.28 393 L600.92 394 L600.5 395 L600.03 396 L599.54 397 L599.05 398 L598.55 399 L598 400 L597.43 401 L596.83 402 L596.23 403 L595.63 404 L595.05 405 L594.46 406 L593.84 407 L593.22 408 L592.61 409 L592.04 410 L591.51 411 L591.05 412 L590.61 413 L590.16 414 L589.74 415 L589.38 416 L589.14 417 L589.05 418 L589.06 419 L589.07 420 L589.1 421 L589.13 422 L589.17 423 L589.21 424 L589.25 425 L589.31 426 L589.41 427 L589.53 428 L589.65 429 L589.75 430 L589.82 431 L589.85 432 L589.84 433 L589.81 434 L589.76 435 L589.7 436 L589.63 437 L589.55 438 L589.41 439 L589.18 440 L588.89 441 L588.56 442 L588.2 443 L587.86 444 L587.55 445 L587.25 446 L586.94 447 L586.63 448 L586.32 449 L586.03 450 L585.77 451 L585.55 452 L585.35 453 L585.14 454 L584.95 455 L584.8 456 L584.69 457 L584.65 458 L584.66 459 L584.68 460 L584.71 461 L584.74 462 L584.78 463 L584.82 464 L584.85 465 L584.88 466 L584.92 467 L584.96 468 L584.99 469 L585.02 470 L585.04 471 L585.05 472 L585.01 473 L584.9 474 L584.73 475 L584.51 476 L584.28 477 L584.03 478 L583.78 479 L583.55 480 L583.32 481 L583.07 482 L582.8 483 L582.53 484 L582.26 485 L582 486 L581.76 487 L581.55 488 L581.36 489 L581.17 490 L580.99 491 L580.82 492 L580.66 493 L580.5 494 L580.36 495 L580.23 496 L580.11 497 L580.05 497.5 L579.75 497.5 L579.69 497 L579.57 496 L579.44 495 L579.3 494 L579.14 493 L578.98 492 L578.81 491 L578.63 490 L578.44 489 L578.25 488 L578.04 487 L577.8 486 L577.54 485 L577.27 484 L577 483 L576.73 482 L576.48 481 L576.25 480 L576.02 479 L575.77 478 L575.52 477 L575.29 476 L575.07 475 L574.9 474 L574.79 473 L574.75 472 L574.76 471 L574.78 470 L574.81 469 L574.84 468 L574.88 467 L574.92 466 L574.95 465 L574.98 464 L575.02 463 L575.06 462 L575.09 461 L575.12 460 L575.14 459 L575.15 458 L575.11 457 L575 456 L574.85 455 L574.66 454 L574.45 453 L574.25 452 L574.03 451 L573.77 450 L573.48 449 L573.17 448 L572.86 447 L572.55 446 L572.25 445 L571.94 444 L571.6 443 L571.24 442 L570.91 441 L570.62 440 L570.39 439 L570.25 438 L570.17 437 L570.1 436 L570.04 435 L569.99 434 L569.96 433 L569.95 432 L569.98 431 L570.05 430 L570.15 429 L570.27 428 L570.39 427 L570.49 426 L570.55 425 L570.59 424 L570.63 423 L570.67 422 L570.7 421 L570.73 420 L570.74 419 L570.75 418 L570.66 417 L570.42 416 L570.06 415 L569.64 414 L569.19 413 L568.75 412 L568.29 411 L567.76 410 L567.19 409 L566.58 408 L565.96 407 L565.34 406 L564.75 405 L564.17 404 L563.57 403 L562.97 402 L562.37 401 L561.8 400 L561.25 399 L560.75 398 L560.26 397 L559.77 396 L559.3 395 L558.88 394 L558.52 393 L558.25 392 L558.04 391 L557.83 390 L557.65 389 L557.49 388 L557.36 387 L557.28 386 L557.25 385 L557.29 384 L557.41 383 L557.57 382 L557.75 381 L557.95 380 L558.12 379 L558.25 378 L558.36 377 L558.47 376 L558.58 375 L558.67 374 L558.73 373 L558.75 372 L558.66 371 L558.42 370 L558.07 369 L557.66 368 L557.25 367 L556.77 366 L556.17 365 L555.5 364 L554.81 363 L554.15 362 L553.5 361 L552.84 360 L552.18 359 L551.54 358 L550.95 357 L550.37 356 L549.78 355 L549.23 354 L548.77 353 L548.45 352 L548.22 351 L548.01 350 L547.85 349 L547.76 348 L547.78 347 L547.98 346 L548.34 345 L548.78 344 L549.25 343 L549.86 342 L550.69 341 L551.6 340 L552.5 339 L553.25 338 L553.82 337 L554.3 336 L554.74 335 L555.21 334 L555.76 333 L556.45 332 L557.51 331 L558.88 330 L560.25 329 L561.49 328 L562.71 327 L563.95 326 L565.27 325 L566.61 324 L567.75 323 L568.71 322 L569.56 321 L570.15 320 L570.55 319 L570.9 318 L571.2 317 L571.45 316 L571.63 315 L571.75 314 L571.83 313 L571.89 312 L571.95 311 L571.99 310 L572.03 309 L572.05 308 L572.07 307 L572.08 306 L572.09 305 L572.1 304 L572.11 303 L572.12 302 L572.13 301 L572.15 300 L572.18 299 L572.23 298 L572.3 297 L572.38 296 L572.46 295 L572.56 294 L572.65 293 L572.75 292 L572.86 291 L572.99 290 L573.12 289 L573.28 288 L573.45 287 L573.66 286 L573.91 285 L574.2 284 L574.51 283 L574.83 282 L575.14 281 L575.45 280 L575.76 279 L576.09 278 L576.42 277 L576.73 276 L577.01 275 L577.24 274 L577.43 273 L577.6 272 L577.76 271 L577.91 270 L578.08 269 L578.25 268 L578.45 267 L578.68 266 L578.91 265 L579.13 264 L579.31 263 L579.45 262 L579.56 261 L579.65 260 L579.72 259 L579.75 258 L579.75 257 L579.75 256 L579.75 255 L579.75 254 L579.75 253 L579.75 252 L579.75 251 L579.75 250 L579.75 249 L579.75 248 L579.75 247 L579.75 246 L579.75 245 L579.75 244 L579.75 243 L579.75 242 L579.75 241 L579.75 240 L579.75 239 L579.75 238 L579.75 237 L579.75 236 L579.73 235 L579.67 234 L579.59 233 L579.48 232 L579.37 231 L579.25 230 L579.08 229 L578.89 228 L578.66 227 L578.42 226 L578.16 225 L577.88 224 L577.56 223 L577.21 222 L576.82 221 L576.42 220 L576 219 L575.58 218 L575.13 217 L574.65 216 L574.16 215 L573.65 214 L573.15 213 L572.65 212 L572.12 211 L571.57 210 L571.03 209 L570.54 208 L570.15 207 L569.81 206 L569.47 205 L569.19 204 L569 203 L568.95 202 L569.05 201 L569.24 200 L569.49 199 L569.75 198 L570.04 197 L570.41 196 L570.81 195 L571.24 194 L571.67 193 L572.12 192 L572.61 191 L573.11 190 L573.61 189 L574.11 188 L574.6 187 L575.1 186 L575.61 185 L576.12 184 L576.6 183 L577.05 182 L577.45 181 L577.81 180 L578.14 179 L578.45 178 L578.72 177 L578.95 176 L579.15 175 L579.34 174 L579.5 173 L579.64 172 L579.75 171Z" fill="#fdae9e" stroke="#231815" stroke-opacity=".78" stroke-width="1.8" stroke-linejoin="round"/>
<path d="M553.55 337.5H606.25" stroke="#231815" stroke-opacity=".62" stroke-width="1.15"/>
<path d="M560.75 398H599.05" stroke="#231815" stroke-opacity=".62" stroke-width="1.15"/>
<path d="M552.35 357H607.45" stroke="#231815" stroke-opacity=".66" stroke-width="6.5" stroke-linecap="round"/>
<path d="M568.2 197.8h9.9v9.9h-9.9zM581.7 197.8h9.9v9.9h-9.9zM574.95 286.05h9.9v9.9h-9.9zM574.95 306.05h9.9v9.9h-9.9zM561.45 339.05h9.9v9.9h-9.9zM588.45 339.05h9.9v9.9h-9.9zM568.2 352.8h9.9v9.9h-9.9zM581.7 352.8h9.9v9.9h-9.9zM568.2 393.55h9.9v9.9h-9.9zM581.7 393.55h9.9v9.9h-9.9zM574.95 466.8h9.9v9.9h-9.9zM574.95 332.5h9.9v22.5h-9.9zM574.95 372.5h9.9v21.5h-9.9zM574.95 426.25h9.9v16.25h-9.9z" fill="#0a0a0a"/></g>
<g><path d="M762.5 432V442.5M762.5 572.5V585" stroke="#231815" stroke-opacity=".92" stroke-width="2" fill="none"/>
<path d="M762.65 442.5 L762.77 443.5 L763.07 444.5 L763.48 445.5 L764.18 446.5 L765.05 447.5 L766.1 448.5 L767.34 449.5 L768.65 450.5 L770.07 451.5 L771.54 452.5 L772.97 453.5 L774.44 454.5 L775.83 455.5 L776.98 456.5 L777.97 457.5 L778.84 458.5 L779.64 459.5 L780.38 460.5 L781.06 461.5 L781.66 462.5 L782.2 463.5 L782.68 464.5 L783.15 465.5 L783.59 466.5 L784.02 467.5 L784.45 468.5 L784.9 469.5 L785.37 470.5 L785.85 471.5 L786.34 472.5 L786.84 473.5 L787.4 474.5 L788.07 475.5 L788.86 476.5 L789.72 477.5 L790.61 478.5 L791.63 479.5 L792.57 480.5 L793.27 481.5 L793.83 482.5 L794.25 483.5 L794.58 484.5 L794.81 485.5 L794.85 486.5 L794.82 487.5 L794.76 488.5 L794.67 489.5 L794.42 490.5 L793.91 491.5 L793.39 492.5 L792.82 493.5 L792.25 494.5 L791.75 495.5 L791.28 496.5 L790.85 497.5 L790.47 498.5 L790.17 499.5 L789.88 500.5 L789.57 501.5 L789.18 502.5 L788.68 503.5 L788.11 504.5 L787.51 505.5 L786.92 506.5 L786.38 507.5 L785.83 508.5 L785.27 509.5 L784.75 510.5 L784.29 511.5 L783.9 512.5 L783.56 513.5 L783.26 514.5 L783.05 515.5 L782.9 516.5 L782.78 517.5 L782.75 518.5 L782.89 519.5 L783.15 520.5 L783.45 521.5 L783.82 522.5 L784.26 523.5 L784.65 524.5 L784.96 525.5 L785.23 526.5 L785.45 527.5 L785.66 528.5 L785.85 529.5 L785.95 530.5 L785.94 531.5 L785.92 532.5 L785.88 533.5 L785.81 534.5 L785.64 535.5 L785.39 536.5 L785.07 537.5 L784.56 538.5 L783.95 539.5 L783.35 540.5 L782.71 541.5 L782.04 542.5 L781.34 543.5 L780.58 544.5 L779.82 545.5 L779.1 546.5 L778.43 547.5 L777.77 548.5 L777.08 549.5 L776.35 550.5 L775.6 551.5 L774.83 552.5 L774.07 553.5 L773.32 554.5 L772.59 555.5 L771.89 556.5 L771.19 557.5 L770.5 558.5 L769.8 559.5 L769.09 560.5 L768.34 561.5 L767.58 562.5 L766.85 563.5 L766.16 564.5 L765.55 565.5 L764.97 566.5 L764.43 567.5 L763.96 568.5 L763.56 569.5 L763.2 570.5 L762.9 571.5 L762.65 572.5 L762.35 572.5 L762.1 571.5 L761.8 570.5 L761.44 569.5 L761.04 568.5 L760.57 567.5 L760.03 566.5 L759.45 565.5 L758.84 564.5 L758.15 563.5 L757.42 562.5 L756.66 561.5 L755.91 560.5 L755.2 559.5 L754.5 558.5 L753.81 557.5 L753.11 556.5 L752.41 555.5 L751.68 554.5 L750.93 553.5 L750.17 552.5 L749.4 551.5 L748.65 550.5 L747.92 549.5 L747.23 548.5 L746.57 547.5 L745.9 546.5 L745.18 545.5 L744.42 544.5 L743.66 543.5 L742.96 542.5 L742.29 541.5 L741.65 540.5 L741.05 539.5 L740.44 538.5 L739.93 537.5 L739.61 536.5 L739.36 535.5 L739.19 534.5 L739.12 533.5 L739.08 532.5 L739.06 531.5 L739.05 530.5 L739.15 529.5 L739.34 528.5 L739.55 527.5 L739.77 526.5 L740.04 525.5 L740.35 524.5 L740.74 523.5 L741.18 522.5 L741.55 521.5 L741.85 520.5 L742.11 519.5 L742.25 518.5 L742.22 517.5 L742.1 516.5 L741.95 515.5 L741.74 514.5 L741.44 513.5 L741.1 512.5 L740.71 511.5 L740.25 510.5 L739.73 509.5 L739.17 508.5 L738.62 507.5 L738.08 506.5 L737.49 505.5 L736.89 504.5 L736.32 503.5 L735.82 502.5 L735.43 501.5 L735.12 500.5 L734.83 499.5 L734.53 498.5 L734.15 497.5 L733.72 496.5 L733.25 495.5 L732.75 494.5 L732.18 493.5 L731.61 492.5 L731.09 491.5 L730.58 490.5 L730.33 489.5 L730.24 488.5 L730.18 487.5 L730.15 486.5 L730.19 485.5 L730.42 484.5 L730.75 483.5 L731.17 482.5 L731.73 481.5 L732.43 480.5 L733.37 479.5 L734.39 478.5 L735.28 477.5 L736.14 476.5 L736.93 475.5 L737.6 474.5 L738.16 473.5 L738.66 472.5 L739.15 471.5 L739.63 470.5 L740.1 469.5 L740.55 468.5 L740.98 467.5 L741.41 466.5 L741.85 465.5 L742.32 464.5 L742.8 463.5 L743.34 462.5 L743.94 461.5 L744.62 460.5 L745.36 459.5 L746.16 458.5 L747.03 457.5 L748.02 456.5 L749.17 455.5 L750.56 454.5 L752.03 453.5 L753.46 452.5 L754.93 451.5 L756.35 450.5 L757.66 449.5 L758.9 448.5 L759.95 447.5 L760.82 446.5 L761.52 445.5 L761.93 444.5 L762.23 443.5 L762.35 442.5Z" fill="#a5b7e2" stroke="#231815" stroke-opacity=".78" stroke-width="1.8" stroke-linejoin="round"/>
<path d="M730.28 485H794.72" stroke="#231815" stroke-opacity=".62" stroke-width="1.15"/>
<path d="M739.05 530.5H785.95" stroke="#231815" stroke-opacity=".62" stroke-width="1.15"/>
<path d="M736.83 501.5H788.17" stroke="#231815" stroke-opacity=".66" stroke-width="6.5" stroke-linecap="round"/>
<path d="M750.8 460.3h9.9v9.9h-9.9zM764.3 460.3h9.9v9.9h-9.9zM744.05 479.8h9.9v9.9h-9.9zM757.55 479.8h9.9v9.9h-9.9zM771.05 479.8h9.9v9.9h-9.9zM757.55 547.3h9.9v9.9h-9.9zM757.55 493.75h9.9v22.5h-9.9zM757.55 521.25h9.9v22.5h-9.9z" fill="#0a0a0a"/></g>
<g><path d="M843.75 211.25V230M843.75 480V503.25" stroke="#231815" stroke-opacity=".92" stroke-width="2" fill="none"/>
<path d="M843.9 230 L843.96 231 L844.07 232 L844.24 233 L844.44 234 L844.66 235 L844.9 236 L845.19 237 L845.56 238 L846.01 239 L846.5 240 L847.04 241 L847.61 242 L848.2 243 L848.89 244 L849.65 245 L850.47 246 L851.32 247 L852.2 248 L853.06 249 L853.9 250 L854.73 251 L855.59 252 L856.44 253 L857.29 254 L858.12 255 L858.9 256 L859.65 257 L860.38 258 L861.1 259 L861.79 260 L862.46 261 L863.09 262 L863.7 263 L864.3 264 L864.89 265 L865.45 266 L865.97 267 L866.46 268 L866.9 269 L867.31 270 L867.71 271 L868.08 272 L868.41 273 L868.69 274 L868.9 275 L869.07 276 L869.22 277 L869.35 278 L869.47 279 L869.57 280 L869.65 281 L869.7 282 L869.73 283 L869.76 284 L869.78 285 L869.8 286 L869.81 287 L869.83 288 L869.85 289 L869.88 290 L869.92 291 L869.99 292 L870.08 293 L870.18 294 L870.3 295 L870.43 296 L870.57 297 L870.7 298 L870.83 299 L870.98 300 L871.13 301 L871.3 302 L871.48 303 L871.68 304 L871.9 305 L872.17 306 L872.51 307 L872.9 308 L873.3 309 L873.7 310 L874.08 311 L874.4 312 L874.67 313 L874.92 314 L875.16 315 L875.4 316 L875.65 317 L875.89 318 L876.1 319 L876.29 320 L876.45 321 L876.54 322 L876.59 323 L876.59 324 L876.56 325 L876.5 326 L876.37 327 L876.16 328 L875.9 329 L875.58 330 L875.17 331 L874.7 332 L874.16 333 L873.54 334 L872.9 335 L872.24 336 L871.55 337 L870.85 338 L870.16 339 L869.5 340 L868.85 341 L868.2 342 L867.55 343 L866.92 344 L866.3 345 L865.72 346 L865.19 347 L864.7 348 L864.24 349 L863.77 350 L863.32 351 L862.91 352 L862.56 353 L862.28 354 L862.1 355 L861.98 356 L861.86 357 L861.76 358 L861.67 359 L861.6 360 L861.55 361 L861.51 362 L861.5 363 L861.5 364 L861.52 365 L861.53 366 L861.55 367 L861.57 368 L861.58 369 L861.6 370 L861.6 371 L861.56 372 L861.47 373 L861.32 374 L861.13 375 L860.92 376 L860.7 377 L860.48 378 L860.28 379 L860.1 380 L859.95 381 L859.81 382 L859.66 383 L859.52 384 L859.37 385 L859.2 386 L859.01 387 L858.79 388 L858.57 389 L858.34 390 L858.11 391 L857.9 392 L857.71 393 L857.52 394 L857.34 395 L857.17 396 L856.99 397 L856.8 398 L856.6 399 L856.39 400 L856.18 401 L855.96 402 L855.74 403 L855.5 404 L855.26 405 L855 406 L854.7 407 L854.3 408 L853.82 409 L853.28 410 L852.73 411 L852.2 412 L851.68 413 L851.13 414 L850.59 415 L850.1 416 L849.7 417 L849.36 418 L849.06 419 L848.78 420 L848.53 421 L848.31 422 L848.1 423 L847.9 424 L847.69 425 L847.49 426 L847.31 427 L847.18 428 L847.11 429 L847.1 430 L847.11 431 L847.12 432 L847.13 433 L847.15 434 L847.17 435 L847.2 436 L847.24 437 L847.32 438 L847.41 439 L847.51 440 L847.61 441 L847.7 442 L847.78 443 L847.88 444 L847.98 445 L848.07 446 L848.17 447 L848.25 448 L848.32 449 L848.37 450 L848.4 451 L848.39 452 L848.34 453 L848.24 454 L848.1 455 L847.94 456 L847.75 457 L847.56 458 L847.38 459 L847.2 460 L847.02 461 L846.82 462 L846.6 463 L846.37 464 L846.13 465 L845.9 466 L845.67 467 L845.46 468 L845.27 469 L845.1 470 L844.95 471 L844.8 472 L844.66 473 L844.53 474 L844.4 475 L844.28 476 L844.17 477 L844.07 478 L843.98 479 L843.9 480 L843.6 480 L843.52 479 L843.43 478 L843.33 477 L843.22 476 L843.1 475 L842.97 474 L842.84 473 L842.7 472 L842.55 471 L842.4 470 L842.23 469 L842.04 468 L841.83 467 L841.6 466 L841.37 465 L841.13 464 L840.9 463 L840.68 462 L840.48 461 L840.3 460 L840.12 459 L839.94 458 L839.75 457 L839.56 456 L839.4 455 L839.26 454 L839.16 453 L839.11 452 L839.1 451 L839.13 450 L839.18 449 L839.25 448 L839.33 447 L839.43 446 L839.52 445 L839.62 444 L839.72 443 L839.8 442 L839.89 441 L839.99 440 L840.09 439 L840.18 438 L840.26 437 L840.3 436 L840.33 435 L840.35 434 L840.37 433 L840.38 432 L840.39 431 L840.4 430 L840.39 429 L840.32 428 L840.19 427 L840.01 426 L839.81 425 L839.6 424 L839.4 423 L839.19 422 L838.97 421 L838.72 420 L838.44 419 L838.14 418 L837.8 417 L837.4 416 L836.91 415 L836.37 414 L835.82 413 L835.3 412 L834.77 411 L834.22 410 L833.68 409 L833.2 408 L832.8 407 L832.5 406 L832.24 405 L832 404 L831.76 403 L831.54 402 L831.32 401 L831.11 400 L830.9 399 L830.7 398 L830.51 397 L830.33 396 L830.16 395 L829.98 394 L829.79 393 L829.6 392 L829.39 391 L829.16 390 L828.93 389 L828.71 388 L828.49 387 L828.3 386 L828.13 385 L827.98 384 L827.84 383 L827.69 382 L827.55 381 L827.4 380 L827.22 379 L827.02 378 L826.8 377 L826.58 376 L826.37 375 L826.18 374 L826.03 373 L825.94 372 L825.9 371 L825.9 370 L825.92 369 L825.93 368 L825.95 367 L825.97 366 L825.98 365 L826 364 L826 363 L825.99 362 L825.95 361 L825.9 360 L825.83 359 L825.74 358 L825.64 357 L825.52 356 L825.4 355 L825.22 354 L824.94 353 L824.59 352 L824.18 351 L823.73 350 L823.26 349 L822.8 348 L822.31 347 L821.78 346 L821.2 345 L820.58 344 L819.95 343 L819.3 342 L818.65 341 L818 340 L817.34 339 L816.65 338 L815.95 337 L815.26 336 L814.6 335 L813.96 334 L813.34 333 L812.8 332 L812.33 331 L811.92 330 L811.6 329 L811.34 328 L811.13 327 L811 326 L810.94 325 L810.91 324 L810.91 323 L810.96 322 L811.05 321 L811.21 320 L811.4 319 L811.61 318 L811.85 317 L812.1 316 L812.34 315 L812.58 314 L812.83 313 L813.1 312 L813.42 311 L813.8 310 L814.2 309 L814.6 308 L814.99 307 L815.33 306 L815.6 305 L815.82 304 L816.02 303 L816.2 302 L816.37 301 L816.52 300 L816.67 299 L816.8 298 L816.93 297 L817.07 296 L817.2 295 L817.32 294 L817.42 293 L817.51 292 L817.58 291 L817.62 290 L817.65 289 L817.67 288 L817.69 287 L817.7 286 L817.72 285 L817.74 284 L817.77 283 L817.8 282 L817.85 281 L817.93 280 L818.03 279 L818.15 278 L818.28 277 L818.43 276 L818.6 275 L818.81 274 L819.09 273 L819.42 272 L819.79 271 L820.19 270 L820.6 269 L821.04 268 L821.53 267 L822.05 266 L822.61 265 L823.2 264 L823.8 263 L824.41 262 L825.04 261 L825.71 260 L826.4 259 L827.12 258 L827.85 257 L828.6 256 L829.38 255 L830.21 254 L831.06 253 L831.91 252 L832.77 251 L833.6 250 L834.44 249 L835.3 248 L836.18 247 L837.03 246 L837.85 245 L838.61 244 L839.3 243 L839.89 242 L840.46 241 L841 240 L841.49 239 L841.94 238 L842.31 237 L842.6 236 L842.84 235 L843.06 234 L843.26 233 L843.43 232 L843.54 231 L843.6 230Z" fill="#fdae9e" stroke="#231815" stroke-opacity=".78" stroke-width="1.8" stroke-linejoin="round"/>
<path d="M817.6 290.5H869.9" stroke="#231815" stroke-opacity=".62" stroke-width="1.15"/>
<path d="M825.9 371H861.6" stroke="#231815" stroke-opacity=".62" stroke-width="1.15"/>
<path d="M812.3 323.5H875.2" stroke="#231815" stroke-opacity=".66" stroke-width="6.5" stroke-linecap="round"/>
<path d="M838.8 258.55h9.9v9.9h-9.9zM832.05 265.3h9.9v9.9h-9.9zM845.55 265.3h9.9v9.9h-9.9zM838.8 279.3h9.9v9.9h-9.9zM832.05 285.55h9.9v9.9h-9.9zM845.55 285.55h9.9v9.9h-9.9zM838.8 299.3h9.9v9.9h-9.9zM845.55 305.3h9.9v9.9h-9.9zM838.8 338.8h9.9v9.9h-9.9zM838.8 352.3h9.9v9.9h-9.9zM832.05 366.05h9.9v9.9h-9.9zM845.55 366.05h9.9v9.9h-9.9zM838.8 379.3h9.9v9.9h-9.9zM832.05 399.3h9.9v9.9h-9.9zM845.55 399.3h9.9v9.9h-9.9zM838.8 446.55h9.9v9.9h-9.9zM832.05 312.1h9.9v23.1h-9.9zM845.55 319.3h9.9v15.9h-9.9z" fill="#0a0a0a"/></g>
<g><path d="M1025.5 397V411M1025.5 596V613" stroke="#231815" stroke-opacity=".92" stroke-width="2" fill="none"/>
<path d="M1025.65 411 L1025.75 412 L1025.89 413 L1026.06 414 L1026.25 415 L1026.47 416 L1026.74 417 L1027.07 418 L1027.49 419 L1028.1 420 L1028.86 421 L1029.65 422 L1030.48 423 L1031.38 424 L1032.25 425 L1033.06 426 L1033.86 427 L1034.65 428 L1035.49 429 L1036.32 430 L1037.05 431 L1037.65 432 L1038.18 433 L1038.65 434 L1039.06 435 L1039.43 436 L1039.76 437 L1040.06 438 L1040.35 439 L1040.55 440 L1040.68 441 L1040.78 442 L1040.84 443 L1040.84 444 L1040.77 445 L1040.66 446 L1040.55 447 L1040.42 448 L1040.27 449 L1040.15 450 L1040.06 451 L1039.98 452 L1039.95 453 L1039.95 454 L1039.95 455 L1039.95 456 L1040.12 457 L1040.51 458 L1040.95 459 L1041.42 460 L1041.97 461 L1042.54 462 L1043.09 463 L1043.66 464 L1044.25 465 L1044.89 466 L1045.55 467 L1046.2 468 L1046.8 469 L1047.33 470 L1047.87 471 L1048.45 472 L1049.12 473 L1049.85 474 L1050.61 475 L1051.36 476 L1052.05 477 L1052.69 478 L1053.3 479 L1053.88 480 L1054.45 481 L1055.03 482 L1055.61 483 L1056.11 484 L1056.49 485 L1056.8 486 L1057.06 487 L1057.25 488 L1057.4 489 L1057.52 490 L1057.62 491 L1057.65 492 L1057.65 493 L1057.65 494 L1057.65 495 L1057.65 496 L1057.65 497 L1057.65 498 L1057.59 499 L1057.44 500 L1057.24 501 L1057.05 502 L1056.83 503 L1056.57 504 L1056.33 505 L1056.17 506 L1056.16 507 L1056.23 508 L1056.35 509 L1056.5 510 L1056.65 511 L1056.84 512 L1057.1 513 L1057.37 514 L1057.57 515 L1057.65 516 L1057.59 517 L1057.44 518 L1057.25 519 L1056.95 520 L1056.5 521 L1055.97 522 L1055.31 523 L1054.54 524 L1053.69 525 L1052.79 526 L1051.75 527 L1050.65 528 L1049.49 529 L1048.27 530 L1047.05 531 L1045.84 532 L1044.64 533 L1043.45 534 L1042.25 535 L1041.07 536 L1039.96 537 L1038.96 538 L1038.03 539 L1037.25 540 L1036.58 541 L1036.03 542 L1035.71 543 L1035.45 544 L1035.24 545 L1035.1 546 L1035.05 547 L1035.05 548 L1035.06 549 L1035.08 550 L1035.09 551 L1035.11 552 L1035.12 553 L1035.14 554 L1035.15 555 L1035.15 556 L1035.15 557 L1035.14 558 L1035.12 559 L1035.1 560 L1035.08 561 L1035.05 562 L1035.02 563 L1034.98 564 L1034.93 565 L1034.84 566 L1034.7 567 L1034.53 568 L1034.35 569 L1034.16 570 L1033.94 571 L1033.69 572 L1033.39 573 L1033.01 574 L1032.58 575 L1032.15 576 L1031.72 577 L1031.28 578 L1030.82 579 L1030.36 580 L1029.89 581 L1029.4 582 L1028.95 583 L1028.52 584 L1028.1 585 L1027.7 586 L1027.35 587 L1027.03 588 L1026.72 589 L1026.46 590 L1026.25 591 L1026.08 592 L1025.93 593 L1025.8 594 L1025.71 595 L1025.65 596 L1025.35 596 L1025.29 595 L1025.2 594 L1025.07 593 L1024.92 592 L1024.75 591 L1024.54 590 L1024.28 589 L1023.97 588 L1023.65 587 L1023.3 586 L1022.9 585 L1022.48 584 L1022.05 583 L1021.6 582 L1021.11 581 L1020.64 580 L1020.18 579 L1019.72 578 L1019.28 577 L1018.85 576 L1018.42 575 L1017.99 574 L1017.61 573 L1017.31 572 L1017.06 571 L1016.84 570 L1016.65 569 L1016.47 568 L1016.3 567 L1016.16 566 L1016.07 565 L1016.02 564 L1015.98 563 L1015.95 562 L1015.92 561 L1015.9 560 L1015.88 559 L1015.86 558 L1015.85 557 L1015.85 556 L1015.85 555 L1015.86 554 L1015.88 553 L1015.89 552 L1015.91 551 L1015.92 550 L1015.94 549 L1015.95 548 L1015.95 547 L1015.9 546 L1015.76 545 L1015.55 544 L1015.29 543 L1014.97 542 L1014.42 541 L1013.75 540 L1012.97 539 L1012.04 538 L1011.04 537 L1009.93 536 L1008.75 535 L1007.55 534 L1006.36 533 L1005.16 532 L1003.95 531 L1002.73 530 L1001.51 529 L1000.35 528 L999.25 527 L998.21 526 L997.31 525 L996.46 524 L995.69 523 L995.03 522 L994.5 521 L994.05 520 L993.75 519 L993.56 518 L993.41 517 L993.35 516 L993.43 515 L993.63 514 L993.9 513 L994.16 512 L994.35 511 L994.5 510 L994.65 509 L994.77 508 L994.84 507 L994.83 506 L994.67 505 L994.43 504 L994.17 503 L993.95 502 L993.76 501 L993.56 500 L993.41 499 L993.35 498 L993.35 497 L993.35 496 L993.35 495 L993.35 494 L993.35 493 L993.35 492 L993.38 491 L993.48 490 L993.6 489 L993.75 488 L993.94 487 L994.2 486 L994.51 485 L994.89 484 L995.39 483 L995.97 482 L996.55 481 L997.12 480 L997.7 479 L998.31 478 L998.95 477 L999.64 476 L1000.39 475 L1001.15 474 L1001.88 473 L1002.55 472 L1003.13 471 L1003.67 470 L1004.2 469 L1004.8 468 L1005.45 467 L1006.11 466 L1006.75 465 L1007.34 464 L1007.91 463 L1008.46 462 L1009.03 461 L1009.58 460 L1010.05 459 L1010.49 458 L1010.88 457 L1011.05 456 L1011.05 455 L1011.05 454 L1011.05 453 L1011.02 452 L1010.94 451 L1010.85 450 L1010.73 449 L1010.58 448 L1010.45 447 L1010.34 446 L1010.23 445 L1010.16 444 L1010.16 443 L1010.22 442 L1010.32 441 L1010.45 440 L1010.65 439 L1010.94 438 L1011.24 437 L1011.57 436 L1011.94 435 L1012.35 434 L1012.82 433 L1013.35 432 L1013.95 431 L1014.68 430 L1015.51 429 L1016.35 428 L1017.14 427 L1017.94 426 L1018.75 425 L1019.62 424 L1020.52 423 L1021.35 422 L1022.14 421 L1022.9 420 L1023.51 419 L1023.93 418 L1024.26 417 L1024.53 416 L1024.75 415 L1024.94 414 L1025.11 413 L1025.25 412 L1025.35 411Z" fill="#a5b7e2" stroke="#231815" stroke-opacity=".78" stroke-width="1.8" stroke-linejoin="round"/>
<path d="M1002.55 472H1048.45" stroke="#231815" stroke-opacity=".62" stroke-width="1.15"/>
<path d="M997.75 525.5H1053.25" stroke="#231815" stroke-opacity=".62" stroke-width="1.15"/>
<path d="M994.76 498.4H1056.24" stroke="#231815" stroke-opacity=".66" stroke-width="6.5" stroke-linecap="round"/>
<path d="M1013.8 479.8h9.9v9.9h-9.9zM1027.3 479.8h9.9v9.9h-9.9zM1020.55 547.05h9.9v9.9h-9.9zM1020.55 567.55h9.9v9.9h-9.9zM1020.55 433h9.9v16.5h-9.9zM1020.55 460.5h9.9v17h-9.9zM1020.55 487.5h9.9v22.5h-9.9zM1013.8 513.75h9.9v16.75h-9.9zM1027.3 513.75h9.9v16.75h-9.9z" fill="#0a0a0a"/></g>
<g><path d="M1106.75 85V125M1106.75 560.7V602.5" stroke="#231815" stroke-opacity=".92" stroke-width="2" fill="none"/>
<path d="M1106.9 125 L1106.95 126 L1107.01 127 L1107.07 128 L1107.13 129 L1107.19 130 L1107.26 131 L1107.33 132 L1107.4 133 L1107.48 134 L1107.56 135 L1107.64 136 L1107.73 137 L1107.82 138 L1107.92 139 L1108.01 140 L1108.11 141 L1108.2 142 L1108.3 143 L1108.39 144 L1108.49 145 L1108.59 146 L1108.69 147 L1108.79 148 L1108.9 149 L1109 150 L1109.1 151 L1109.2 152 L1109.3 153 L1109.4 154 L1109.51 155 L1109.61 156 L1109.72 157 L1109.82 158 L1109.92 159 L1110.02 160 L1110.11 161 L1110.2 162 L1110.29 163 L1110.37 164 L1110.46 165 L1110.54 166 L1110.62 167 L1110.69 168 L1110.75 169 L1110.8 170 L1110.85 171 L1110.89 172 L1110.93 173 L1110.97 174 L1110.99 175 L1111 176 L1110.99 177 L1110.96 178 L1110.92 179 L1110.87 180 L1110.82 181 L1110.76 182 L1110.7 183 L1110.64 184 L1110.56 185 L1110.48 186 L1110.39 187 L1110.3 188 L1110.2 189 L1110.1 190 L1110 191 L1109.9 192 L1109.8 193 L1109.69 194 L1109.58 195 L1109.47 196 L1109.36 197 L1109.24 198 L1109.13 199 L1109.02 200 L1108.91 201 L1108.8 202 L1108.7 203 L1108.59 204 L1108.49 205 L1108.39 206 L1108.29 207 L1108.19 208 L1108.09 209 L1107.99 210 L1107.89 211 L1107.8 212 L1107.7 213 L1107.6 214 L1107.5 215 L1107.4 216 L1107.31 217 L1107.23 218 L1107.16 219 L1107.1 220 L1107.05 221 L1107.01 222 L1106.96 223 L1106.93 224 L1106.91 225 L1106.9 226 L1106.9 227 L1106.9 228 L1106.9 229 L1106.9 230 L1106.9 231 L1106.9 232 L1106.9 233 L1106.9 234 L1106.9 235 L1106.9 236 L1106.9 237 L1106.93 238 L1106.99 239 L1107.09 240 L1107.18 241 L1107.28 242 L1107.39 243 L1107.51 244 L1107.65 245 L1107.79 246 L1107.94 247 L1108.09 248 L1108.26 249 L1108.44 250 L1108.64 251 L1108.84 252 L1109.05 253 L1109.27 254 L1109.49 255 L1109.73 256 L1109.98 257 L1110.25 258 L1110.53 259 L1110.83 260 L1111.16 261 L1111.53 262 L1111.92 263 L1112.32 264 L1112.74 265 L1113.16 266 L1113.58 267 L1114.02 268 L1114.46 269 L1114.92 270 L1115.39 271 L1115.86 272 L1116.34 273 L1116.83 274 L1117.32 275 L1117.83 276 L1118.34 277 L1118.85 278 L1119.35 279 L1119.87 280 L1120.39 281 L1120.91 282 L1121.42 283 L1121.93 284 L1122.42 285 L1122.9 286 L1123.36 287 L1123.82 288 L1124.27 289 L1124.73 290 L1125.2 291 L1125.69 292 L1126.19 293 L1126.69 294 L1127.19 295 L1127.67 296 L1128.12 297 L1128.53 298 L1128.94 299 L1129.33 300 L1129.7 301 L1130.05 302 L1130.38 303 L1130.68 304 L1130.96 305 L1131.23 306 L1131.48 307 L1131.72 308 L1131.96 309 L1132.19 310 L1132.43 311 L1132.67 312 L1132.89 313 L1133.1 314 L1133.28 315 L1133.43 316 L1133.56 317 L1133.69 318 L1133.81 319 L1133.91 320 L1133.97 321 L1134 322 L1134 323 L1134 324 L1134 325 L1134 326 L1134 327 L1134 328 L1133.99 329 L1133.96 330 L1133.91 331 L1133.86 332 L1133.79 333 L1133.73 334 L1133.67 335 L1133.6 336 L1133.52 337 L1133.43 338 L1133.33 339 L1133.23 340 L1133.13 341 L1133.02 342 L1132.91 343 L1132.81 344 L1132.7 345 L1132.59 346 L1132.49 347 L1132.39 348 L1132.29 349 L1132.19 350 L1132.09 351 L1132 352 L1131.9 353 L1131.79 354 L1131.69 355 L1131.58 356 L1131.48 357 L1131.36 358 L1131.25 359 L1131.12 360 L1130.99 361 L1130.85 362 L1130.72 363 L1130.59 364 L1130.46 365 L1130.33 366 L1130.2 367 L1130.07 368 L1129.94 369 L1129.81 370 L1129.68 371 L1129.56 372 L1129.43 373 L1129.31 374 L1129.19 375 L1129.08 376 L1128.97 377 L1128.88 378 L1128.78 379 L1128.68 380 L1128.57 381 L1128.45 382 L1128.3 383 L1128.12 384 L1127.88 385 L1127.58 386 L1127.25 387 L1126.9 388 L1126.53 389 L1126.12 390 L1125.68 391 L1125.24 392 L1124.81 393 L1124.4 394 L1123.99 395 L1123.59 396 L1123.19 397 L1122.8 398 L1122.4 399 L1122 400 L1121.59 401 L1121.17 402 L1120.76 403 L1120.35 404 L1119.96 405 L1119.6 406 L1119.25 407 L1118.91 408 L1118.59 409 L1118.28 410 L1118 411 L1117.75 412 L1117.51 413 L1117.27 414 L1117.04 415 L1116.84 416 L1116.69 417 L1116.61 418 L1116.6 419 L1116.6 420 L1116.6 421 L1116.6 422 L1116.6 423 L1116.6 424 L1116.61 425 L1116.69 426 L1116.84 427 L1117.06 428 L1117.31 429 L1117.58 430 L1117.86 431 L1118.2 432 L1118.64 433 L1119.13 434 L1119.66 435 L1120.21 436 L1120.75 437 L1121.28 438 L1121.82 439 L1122.39 440 L1122.98 441 L1123.58 442 L1124.21 443 L1124.87 444 L1125.57 445 L1126.31 446 L1127.06 447 L1127.82 448 L1128.55 449 L1129.25 450 L1129.92 451 L1130.59 452 L1131.25 453 L1131.91 454 L1132.57 455 L1133.24 456 L1133.97 457 L1134.72 458 L1135.44 459 L1136.11 460 L1136.67 461 L1137.11 462 L1137.51 463 L1137.88 464 L1138.2 465 L1138.46 466 L1138.65 467 L1138.76 468 L1138.86 469 L1138.94 470 L1138.99 471 L1139 472 L1139 473 L1139 474 L1139 475 L1139 476 L1138.97 477 L1138.9 478 L1138.81 479 L1138.69 480 L1138.49 481 L1138.18 482 L1137.79 483 L1137.36 484 L1136.9 485 L1136.44 486 L1135.99 487 L1135.49 488 L1134.96 489 L1134.4 490 L1133.84 491 L1133.27 492 L1132.7 493 L1132.12 494 L1131.53 495 L1130.92 496 L1130.32 497 L1129.71 498 L1129.09 499 L1128.47 500 L1127.84 501 L1127.21 502 L1126.58 503 L1125.96 504 L1125.35 505 L1124.74 506 L1124.15 507 L1123.55 508 L1122.96 509 L1122.38 510 L1121.8 511 L1121.22 512 L1120.64 513 L1120.07 514 L1119.5 515 L1118.95 516 L1118.41 517 L1117.88 518 L1117.35 519 L1116.84 520 L1116.33 521 L1115.85 522 L1115.38 523 L1114.93 524 L1114.5 525 L1114.07 526 L1113.66 527 L1113.27 528 L1112.91 529 L1112.57 530 L1112.25 531 L1111.94 532 L1111.66 533 L1111.38 534 L1111.11 535 L1110.85 536 L1110.59 537 L1110.35 538 L1110.11 539 L1109.87 540 L1109.65 541 L1109.42 542 L1109.2 543 L1108.97 544 L1108.74 545 L1108.53 546 L1108.33 547 L1108.15 548 L1107.99 549 L1107.84 550 L1107.7 551 L1107.57 552 L1107.45 553 L1107.35 554 L1107.26 555 L1107.18 556 L1107.1 557 L1107.03 558 L1106.97 559 L1106.93 560 L1106.9 560.7 L1106.6 560.7 L1106.57 560 L1106.53 559 L1106.47 558 L1106.4 557 L1106.32 556 L1106.24 555 L1106.15 554 L1106.05 553 L1105.93 552 L1105.8 551 L1105.66 550 L1105.51 549 L1105.35 548 L1105.17 547 L1104.97 546 L1104.76 545 L1104.53 544 L1104.3 543 L1104.08 542 L1103.85 541 L1103.63 540 L1103.39 539 L1103.15 538 L1102.91 537 L1102.65 536 L1102.39 535 L1102.12 534 L1101.84 533 L1101.56 532 L1101.25 531 L1100.93 530 L1100.59 529 L1100.23 528 L1099.84 527 L1099.43 526 L1099 525 L1098.57 524 L1098.12 523 L1097.65 522 L1097.17 521 L1096.66 520 L1096.15 519 L1095.62 518 L1095.09 517 L1094.55 516 L1094 515 L1093.43 514 L1092.86 513 L1092.28 512 L1091.7 511 L1091.12 510 L1090.54 509 L1089.95 508 L1089.35 507 L1088.76 506 L1088.15 505 L1087.54 504 L1086.92 503 L1086.29 502 L1085.66 501 L1085.03 500 L1084.41 499 L1083.79 498 L1083.18 497 L1082.58 496 L1081.97 495 L1081.38 494 L1080.8 493 L1080.23 492 L1079.66 491 L1079.1 490 L1078.54 489 L1078.01 488 L1077.51 487 L1077.06 486 L1076.6 485 L1076.14 484 L1075.71 483 L1075.32 482 L1075.01 481 L1074.81 480 L1074.69 479 L1074.6 478 L1074.53 477 L1074.5 476 L1074.5 475 L1074.5 474 L1074.5 473 L1074.5 472 L1074.51 471 L1074.56 470 L1074.64 469 L1074.74 468 L1074.85 467 L1075.04 466 L1075.3 465 L1075.62 464 L1075.99 463 L1076.39 462 L1076.83 461 L1077.39 460 L1078.06 459 L1078.78 458 L1079.53 457 L1080.26 456 L1080.93 455 L1081.59 454 L1082.25 453 L1082.91 452 L1083.58 451 L1084.25 450 L1084.95 449 L1085.68 448 L1086.44 447 L1087.19 446 L1087.93 445 L1088.63 444 L1089.29 443 L1089.92 442 L1090.52 441 L1091.11 440 L1091.68 439 L1092.22 438 L1092.75 437 L1093.29 436 L1093.84 435 L1094.37 434 L1094.86 433 L1095.3 432 L1095.64 431 L1095.92 430 L1096.19 429 L1096.44 428 L1096.66 427 L1096.81 426 L1096.89 425 L1096.9 424 L1096.9 423 L1096.9 422 L1096.9 421 L1096.9 420 L1096.9 419 L1096.89 418 L1096.81 417 L1096.66 416 L1096.46 415 L1096.23 414 L1095.99 413 L1095.75 412 L1095.5 411 L1095.22 410 L1094.91 409 L1094.59 408 L1094.25 407 L1093.9 406 L1093.54 405 L1093.15 404 L1092.74 403 L1092.33 402 L1091.91 401 L1091.5 400 L1091.1 399 L1090.7 398 L1090.31 397 L1089.91 396 L1089.51 395 L1089.1 394 L1088.69 393 L1088.26 392 L1087.82 391 L1087.38 390 L1086.97 389 L1086.6 388 L1086.25 387 L1085.92 386 L1085.62 385 L1085.38 384 L1085.2 383 L1085.05 382 L1084.93 381 L1084.82 380 L1084.72 379 L1084.62 378 L1084.53 377 L1084.42 376 L1084.31 375 L1084.19 374 L1084.07 373 L1083.94 372 L1083.82 371 L1083.69 370 L1083.56 369 L1083.43 368 L1083.3 367 L1083.17 366 L1083.04 365 L1082.91 364 L1082.78 363 L1082.65 362 L1082.51 361 L1082.38 360 L1082.25 359 L1082.14 358 L1082.02 357 L1081.92 356 L1081.81 355 L1081.71 354 L1081.6 353 L1081.5 352 L1081.41 351 L1081.31 350 L1081.21 349 L1081.11 348 L1081.01 347 L1080.91 346 L1080.8 345 L1080.69 344 L1080.59 343 L1080.48 342 L1080.37 341 L1080.27 340 L1080.17 339 L1080.07 338 L1079.98 337 L1079.9 336 L1079.83 335 L1079.77 334 L1079.71 333 L1079.64 332 L1079.59 331 L1079.54 330 L1079.51 329 L1079.5 328 L1079.5 327 L1079.5 326 L1079.5 325 L1079.5 324 L1079.5 323 L1079.5 322 L1079.53 321 L1079.59 320 L1079.69 319 L1079.81 318 L1079.94 317 L1080.07 316 L1080.22 315 L1080.4 314 L1080.61 313 L1080.83 312 L1081.07 311 L1081.31 310 L1081.54 309 L1081.78 308 L1082.02 307 L1082.27 306 L1082.54 305 L1082.82 304 L1083.12 303 L1083.45 302 L1083.8 301 L1084.17 300 L1084.56 299 L1084.97 298 L1085.38 297 L1085.83 296 L1086.31 295 L1086.81 294 L1087.31 293 L1087.81 292 L1088.3 291 L1088.77 290 L1089.23 289 L1089.68 288 L1090.14 287 L1090.6 286 L1091.08 285 L1091.57 284 L1092.08 283 L1092.59 282 L1093.11 281 L1093.63 280 L1094.15 279 L1094.65 278 L1095.16 277 L1095.67 276 L1096.18 275 L1096.67 274 L1097.16 273 L1097.64 272 L1098.11 271 L1098.58 270 L1099.04 269 L1099.48 268 L1099.92 267 L1100.34 266 L1100.76 265 L1101.18 264 L1101.58 263 L1101.97 262 L1102.34 261 L1102.67 260 L1102.97 259 L1103.25 258 L1103.52 257 L1103.77 256 L1104.01 255 L1104.23 254 L1104.45 253 L1104.66 252 L1104.86 251 L1105.06 250 L1105.24 249 L1105.41 248 L1105.56 247 L1105.71 246 L1105.85 245 L1105.99 244 L1106.11 243 L1106.22 242 L1106.32 241 L1106.41 240 L1106.51 239 L1106.57 238 L1106.6 237 L1106.6 236 L1106.6 235 L1106.6 234 L1106.6 233 L1106.6 232 L1106.6 231 L1106.6 230 L1106.6 229 L1106.6 228 L1106.6 227 L1106.6 226 L1106.59 225 L1106.57 224 L1106.54 223 L1106.49 222 L1106.45 221 L1106.4 220 L1106.34 219 L1106.27 218 L1106.19 217 L1106.1 216 L1106 215 L1105.9 214 L1105.8 213 L1105.7 212 L1105.61 211 L1105.51 210 L1105.41 209 L1105.31 208 L1105.21 207 L1105.11 206 L1105.01 205 L1104.91 204 L1104.8 203 L1104.7 202 L1104.59 201 L1104.48 200 L1104.37 199 L1104.26 198 L1104.14 197 L1104.03 196 L1103.92 195 L1103.81 194 L1103.7 193 L1103.6 192 L1103.5 191 L1103.4 190 L1103.3 189 L1103.2 188 L1103.11 187 L1103.02 186 L1102.94 185 L1102.86 184 L1102.8 183 L1102.74 182 L1102.68 181 L1102.63 180 L1102.58 179 L1102.54 178 L1102.51 177 L1102.5 176 L1102.51 175 L1102.53 174 L1102.57 173 L1102.61 172 L1102.65 171 L1102.7 170 L1102.75 169 L1102.81 168 L1102.88 167 L1102.96 166 L1103.04 165 L1103.13 164 L1103.21 163 L1103.3 162 L1103.39 161 L1103.48 160 L1103.58 159 L1103.68 158 L1103.78 157 L1103.89 156 L1103.99 155 L1104.1 154 L1104.2 153 L1104.3 152 L1104.4 151 L1104.5 150 L1104.6 149 L1104.71 148 L1104.81 147 L1104.91 146 L1105.01 145 L1105.11 144 L1105.2 143 L1105.3 142 L1105.39 141 L1105.49 140 L1105.58 139 L1105.68 138 L1105.77 137 L1105.86 136 L1105.94 135 L1106.02 134 L1106.1 133 L1106.17 132 L1106.24 131 L1106.31 130 L1106.37 129 L1106.43 128 L1106.49 127 L1106.55 126 L1106.6 125Z" fill="#fdae9e" stroke="#231815" stroke-opacity=".78" stroke-width="1.8" stroke-linejoin="round"/>
<path d="M1079.5 325H1134" stroke="#231815" stroke-opacity=".62" stroke-width="1.15"/>
<path d="M1074.5 472H1139" stroke="#231815" stroke-opacity=".62" stroke-width="1.15"/>
<path d="M1086.83 384.25H1126.67" stroke="#231815" stroke-opacity=".66" stroke-width="6.5" stroke-linecap="round"/>
<path d="M1101.8 171.05h9.9v9.9h-9.9zM1095.05 292.8h9.9v9.9h-9.9zM1108.55 292.8h9.9v9.9h-9.9zM1101.8 306.05h9.9v9.9h-9.9zM1101.8 365.55h9.9v9.9h-9.9zM1095.05 379.3h9.9v9.9h-9.9zM1108.55 379.3h9.9v9.9h-9.9zM1101.8 386.8h9.9v9.9h-9.9zM1081.55 467.3h9.9v9.9h-9.9zM1095.05 467.3h9.9v9.9h-9.9zM1108.55 467.3h9.9v9.9h-9.9zM1122.05 467.3h9.9v9.9h-9.9zM1101.8 460.3h9.9v9.9h-9.9zM1101.8 473.55h9.9v9.9h-9.9zM1101.8 486.8h9.9v9.9h-9.9zM1101.8 507.3h9.9v9.9h-9.9zM1101.8 319.2h9.9v29.3h-9.9z" fill="#0a0a0a"/></g>
<g stroke="#080808" stroke-width="6.6" stroke-linecap="round" fill="none">
<path d="M168.6 52V729.5"/>
<path d="M148.6 726.8H1177.7"/>
<path d="M148.6 55H168.6"/>
<path d="M148.6 189.4H168.6"/>
<path d="M148.6 323.8H168.6"/>
<path d="M148.6 458.2H168.6"/>
<path d="M148.6 592.6H168.6"/>
<path d="M275.6 727.8V746.5"/>
<path d="M539 727.8V746.5"/>
<path d="M802.3 727.8V746.5"/>
<path d="M1065.6 727.8V746.5"/>
</g>
<text transform="translate(141.5 71) scale(1 1.035)" font-family="'Liberation Sans', Arial, Helvetica, sans-serif" font-weight="700" font-size="42" fill="#080808" text-anchor="end">1.2</text>
<text transform="translate(141.5 205.4) scale(1 1.035)" font-family="'Liberation Sans', Arial, Helvetica, sans-serif" font-weight="700" font-size="42" fill="#080808" text-anchor="end">1.0</text>
<text transform="translate(141.5 339.8) scale(1 1.035)" font-family="'Liberation Sans', Arial, Helvetica, sans-serif" font-weight="700" font-size="42" fill="#080808" text-anchor="end">0.8</text>
<text transform="translate(141.5 474.2) scale(1 1.035)" font-family="'Liberation Sans', Arial, Helvetica, sans-serif" font-weight="700" font-size="42" fill="#080808" text-anchor="end">0.6</text>
<text transform="translate(141.5 608.6) scale(1 1.035)" font-family="'Liberation Sans', Arial, Helvetica, sans-serif" font-weight="700" font-size="42" fill="#080808" text-anchor="end">0.4</text>
<text transform="translate(141.5 743) scale(1 1.035)" font-family="'Liberation Sans', Arial, Helvetica, sans-serif" font-weight="700" font-size="42" fill="#080808" text-anchor="end">0.2</text>
<text transform="translate(274.9 792.6) scale(1 1.035)" font-family="'Liberation Sans', Arial, Helvetica, sans-serif" font-weight="700" font-size="42" fill="#080808" text-anchor="middle">Q1</text>
<text transform="translate(538.3 792.6) scale(1 1.035)" font-family="'Liberation Sans', Arial, Helvetica, sans-serif" font-weight="700" font-size="42" fill="#080808" text-anchor="middle">Q2</text>
<text transform="translate(801.6 792.6) scale(1 1.035)" font-family="'Liberation Sans', Arial, Helvetica, sans-serif" font-weight="700" font-size="42" fill="#080808" text-anchor="middle">Q3</text>
<text transform="translate(1064.9 792.6) scale(1 1.035)" font-family="'Liberation Sans', Arial, Helvetica, sans-serif" font-weight="700" font-size="42" fill="#080808" text-anchor="middle">Q4</text>
<text transform="translate(36.6 395) rotate(-90) scale(1 1.035)" font-family="'Liberation Sans', Arial, Helvetica, sans-serif" font-weight="700" font-size="42" fill="#080808" text-anchor="middle" letter-spacing=".4">SUVR</text>
<g stroke="#0a0a0a" stroke-width="2" fill="none">
<path d="M316.3 74.6V33.9H830.2V74.6"/>
<path d="M856.5 74.6V33.9H1106.4V74.6"/>
</g>
<text x="561.7" y="29.1" font-family="'DejaVu Sans', 'Liberation Sans', sans-serif" font-weight="700" font-size="35" fill="#080808">*</text>
<text x="956.9" y="29.1" font-family="'DejaVu Sans', 'Liberation Sans', sans-serif" font-weight="700" font-size="35" fill="#080808">*</text>
<text x="983.8" y="29.1" font-family="'DejaVu Sans', 'Liberation Sans', sans-serif" font-weight="700" font-size="35" fill="#080808">*</text>
<rect x="730" y="873.5" width="113.5" height="52.2" fill="#a5b7e2"/>
<rect x="730" y="953" width="113.5" height="52" fill="#fdae9e"/>
<text transform="translate(866.6 910.2) scale(1 1.035)" font-family="'Liberation Sans', Arial, Helvetica, sans-serif" font-weight="700" font-size="38" fill="#231815" text-anchor="start">A<tspan x="29.4">β</tspan> <tspan x="64.5">PET</tspan> <tspan x="150.4" letter-spacing=".6">Negative</tspan></text>
<text transform="translate(866.6 989.4) scale(1 1.035)" font-family="'Liberation Sans', Arial, Helvetica, sans-serif" font-weight="700" font-size="38" fill="#231815" text-anchor="start">A<tspan x="29.4">β</tspan> <tspan x="64.5">PET</tspan> <tspan x="150.4" letter-spacing=".6">Positive</tspan></text>
</svg>
</body>
</html>
